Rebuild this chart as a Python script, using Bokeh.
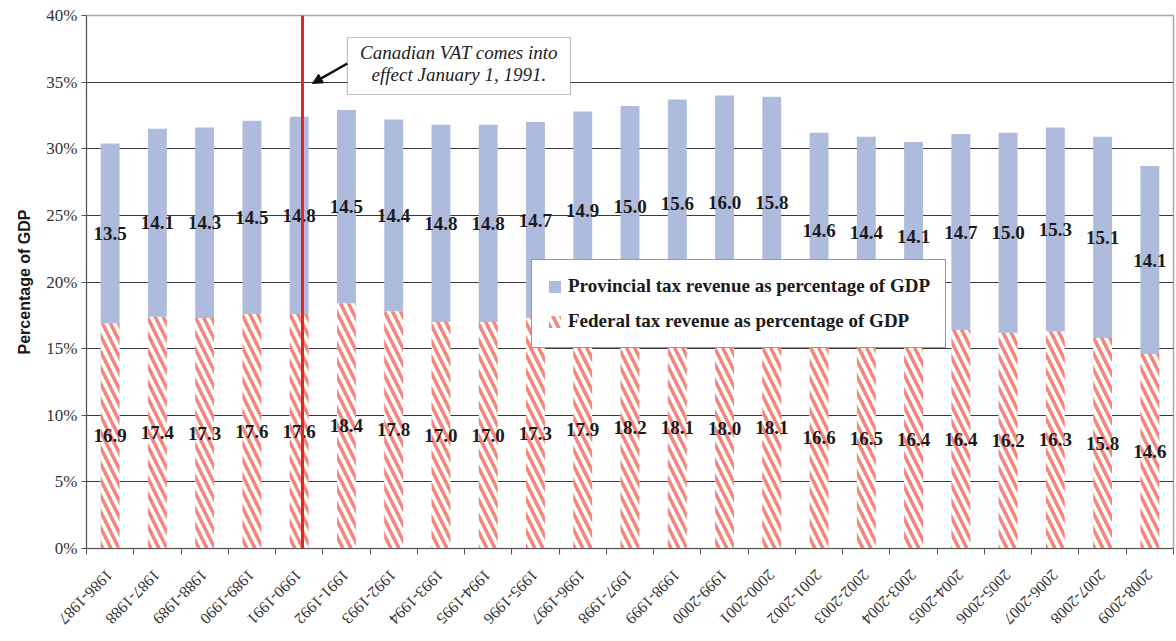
import math
from bokeh.plotting import figure
from bokeh.models import (ColumnDataSource, FixedTicker, Range1d, Span, BoxAnnotation,
                          Label, Arrow, NormalHead, Legend, LegendItem, PrintfTickFormatter)
from bokeh.embed import file_html
from bokeh.resources import INLINE

years = ["1986-1987", "1987-1988", "1988-1989", "1989-1990", "1990-1991", "1991-1992",
         "1992-1993", "1993-1994", "1994-1995", "1995-1996", "1996-1997", "1997-1998",
         "1998-1999", "1999-2000", "2000-2001", "2001-2002", "2002-2003", "2003-2004",
         "2004-2005", "2005-2006", "2006-2007", "2007-2008", "2008-2009"]
federal = [16.9, 17.4, 17.3, 17.6, 17.6, 18.4, 17.8, 17.0, 17.0, 17.3, 17.9, 18.2,
           18.1, 18.0, 18.1, 16.6, 16.5, 16.4, 16.4, 16.2, 16.3, 15.8, 14.6]
provincial = [13.5, 14.1, 14.3, 14.5, 14.8, 14.5, 14.4, 14.8, 14.8, 14.7, 14.9, 15.0,
              15.6, 16.0, 15.8, 14.6, 14.4, 14.1, 14.7, 15.0, 15.3, 15.1, 14.1]
y_ticks = [0, 5, 10, 15, 20, 25, 30, 35, 40]
prov_label = "Provincial tax revenue as percentage of GDP"
fed_label = "Federal tax revenue as percentage of GDP"
note_lines = ["Canadian VAT comes into", "effect January 1, 1991."]
vat_year = "1990-1991"

SERIF = "Liberation Serif"
SANS = "Liberation Sans"
BLUE = "#aebbdd"
SALMON = "#f3867c"

n = len(years)
xs = [i + 0.5 for i in range(n)]
total = [f + p for f, p in zip(federal, provincial)]
src = ColumnDataSource(dict(
    x=xs, fed=federal, prov=provincial, total=total,
    fed_mid=[f / 2 for f in federal],
    prov_mid=[f + p / 2 for f, p in zip(federal, provincial)],
    fed_lbl=[f"{v:.1f}" for v in federal],
    prov_lbl=[f"{v:.1f}" for v in provincial],
))

p = figure(width=1175, height=636, x_range=Range1d(0, n), y_range=Range1d(0, 40),
           output_backend="svg", toolbar_location=None,
           min_border_left=86, min_border_right=2, min_border_top=15, min_border_bottom=88)
p.background_fill_color = "white"
p.border_fill_color = "white"
p.outline_line_color = "#a8a8a8"
p.outline_line_width = 1.5

r_fed = p.vbar(x="x", bottom=0, top="fed", width=0.4, source=src,
               fill_color="white", line_color=None,
               hatch_pattern="\\", hatch_color=SALMON, hatch_scale=16, hatch_weight=3.5)
r_prov = p.vbar(x="x", bottom="fed", top="total", width=0.4, source=src,
                fill_color=BLUE, line_color=None)

# grid
p.xgrid.visible = False
p.ygrid.ticker = FixedTicker(ticks=y_ticks[1:-1])
p.ygrid.grid_line_color = "#3a3a3a"
p.ygrid.grid_line_width = 1
p.ygrid.level = "underlay"

# y axis
p.yaxis.ticker = FixedTicker(ticks=y_ticks)
p.yaxis.formatter = PrintfTickFormatter(format="%d%%")
p.yaxis.major_label_text_font = SERIF
p.yaxis.major_label_text_font_size = "17px"
p.yaxis.major_label_text_color = "#333333"
p.yaxis.major_tick_out = 5
p.yaxis.major_tick_in = 0
p.yaxis.minor_tick_line_color = None
p.yaxis.axis_line_color = "#555555"
p.yaxis.major_tick_line_color = "#555555"
p.yaxis.axis_label = "Percentage of GDP"
p.yaxis.axis_label_text_font = SANS
p.yaxis.axis_label_text_font_style = "bold"
p.yaxis.axis_label_text_font_size = "16px"
p.yaxis.axis_label_text_color = "#1a1a1a"
p.yaxis.axis_label_standoff = 10
p.yaxis.major_label_standoff = 4

# x axis
p.xaxis.ticker = FixedTicker(ticks=xs, minor_ticks=list(range(n + 1)))
p.xaxis.major_label_overrides = {x: y for x, y in zip(xs, years)}
p.xaxis.major_label_orientation = -3 * math.pi / 4
p.xaxis.major_label_text_font = SERIF
p.xaxis.major_label_text_font_size = "16px"
p.xaxis.major_label_text_color = "#333333"
p.xaxis.major_tick_out = 0
p.xaxis.major_tick_in = 0
p.xaxis.minor_tick_out = 6
p.xaxis.minor_tick_in = 0
p.xaxis.minor_tick_line_color = "#555555"
p.xaxis.axis_line_color = "#555555"
p.xaxis.major_label_standoff = 18

# value labels
p.text(x="x", y="fed_mid", text="fed_lbl", source=src, text_align="center",
       text_baseline="middle", text_font={"value": SERIF}, text_font_style="bold",
       text_font_size="19px", text_color="#1a1a1a")
p.text(x="x", y="prov_mid", text="prov_lbl", source=src, text_align="center",
       text_baseline="middle", text_font={"value": SERIF}, text_font_style="bold",
       text_font_size="19px", text_color="#1a1a1a")

# VAT line
vat_x = years.index(vat_year) + 0.57
p.add_layout(Span(location=vat_x, dimension="height", line_color="#e5232b", line_width=3))

# note box + arrow
p.add_layout(BoxAnnotation(left=5.52, right=10.24, bottom=34.07, top=38.35,
                           fill_color="white", fill_alpha=1, line_color="#333333",
                           line_width=1.2))
p.add_layout(Label(x=7.88, y=37.2, text=note_lines[0], text_align="center",
                   text_baseline="middle", text_font=SERIF, text_font_style="italic",
                   text_font_size="19px", text_color="#222222"))
p.add_layout(Label(x=7.88, y=35.6, text=note_lines[1], text_align="center",
                   text_baseline="middle", text_font=SERIF, text_font_style="italic",
                   text_font_size="19px", text_color="#222222"))
p.add_layout(Arrow(end=NormalHead(size=10, fill_color="#111111", line_color="#111111"),
                   x_start=5.52, y_start=36.4, x_end=4.78, y_end=34.9,
                   line_width=2.5, line_color="#111111"))

# legend
legend = Legend(items=[LegendItem(label=prov_label, renderers=[r_prov]),
                       LegendItem(label=fed_label, renderers=[r_fed])],
                location=(445, 200), orientation="vertical")
legend.border_line_color = "#333333"
legend.border_line_width = 1.2
legend.background_fill_color = "white"
legend.background_fill_alpha = 1
legend.label_text_font = SERIF
legend.label_text_font_style = "bold"
legend.label_text_font_size = "19px"
legend.label_text_color = "#1a1a1a"
legend.glyph_width = 15
legend.glyph_height = 15
legend.label_standoff = 6
legend.padding = 15
legend.spacing = 13
legend.margin = 0
p.add_layout(legend, "center")

open("out.html", "w").write(file_html(p, INLINE))
